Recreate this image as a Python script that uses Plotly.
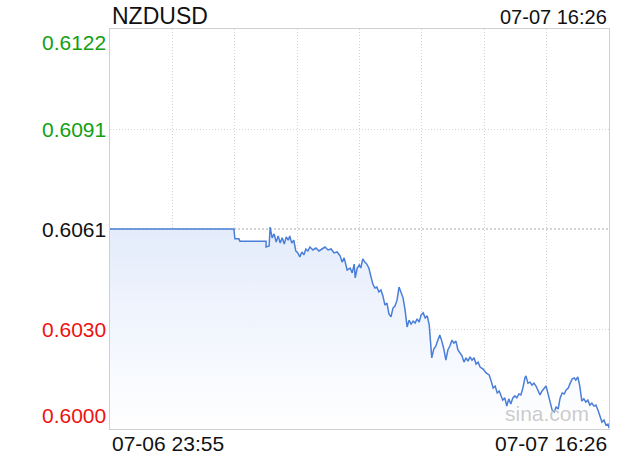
import plotly.graph_objects as go

# ---- data (minutes after 07-06 23:55, price) ----
minutes = [0, 246, 248, 256, 258, 310, 310, 316, 318, 322, 326, 330, 334, 338, 342, 346, 350, 354, 357, 361,
           365, 369, 373, 377, 381, 385, 389, 393, 397, 403, 409, 415, 421, 427, 433, 439, 445, 451, 457, 461,
           465, 471, 477, 481, 485, 487, 491, 495, 498, 502, 506, 510, 514, 518, 522, 526, 530, 534, 538, 542,
           546, 550, 554, 558, 562, 566, 570, 574, 578, 582, 586, 590, 594, 598, 602, 606, 610, 614, 618, 622,
           626, 630, 634, 636, 639, 643, 647, 651, 655, 659, 663, 667, 671, 675, 679, 683, 687, 691, 695, 699,
           703, 707, 711, 715, 719, 723, 727, 731, 735, 741, 747, 753, 757, 761, 765, 769, 773, 777, 780, 784,
           788, 792, 796, 800, 804, 808, 812, 816, 820, 824, 826, 830, 834, 838, 842, 846, 850, 854, 858, 862,
           866, 870, 874, 878, 882, 886, 890, 894, 898, 902, 906, 910, 914, 918, 922, 925, 929, 933, 937, 941,
           945, 949, 953, 957, 961, 965, 969, 973, 977, 981, 985, 989, 991]
prices = [0.60610, 0.60610, 0.60580, 0.60580, 0.60573, 0.60573, 0.60555, 0.60558, 0.60616, 0.60583,
          0.60595, 0.60570, 0.60589, 0.60567, 0.60583, 0.60564, 0.60586, 0.60576, 0.60589, 0.60567,
          0.60576, 0.60543, 0.60537, 0.60525, 0.60540, 0.60531, 0.60549, 0.60543, 0.60555, 0.60546,
          0.60552, 0.60543, 0.60549, 0.60555, 0.60546, 0.60549, 0.60537, 0.60540, 0.60528, 0.60509,
          0.60522, 0.60485, 0.60491, 0.60476, 0.60503, 0.60461, 0.60491, 0.60500, 0.60491, 0.60519,
          0.60509, 0.60503, 0.60491, 0.60467, 0.60442, 0.60430, 0.60433, 0.60418, 0.60424, 0.60406,
          0.60378, 0.60384, 0.60351, 0.60342, 0.60369, 0.60375, 0.60393, 0.60433, 0.60415, 0.60400,
          0.60363, 0.60311, 0.60332, 0.60320, 0.60329, 0.60323, 0.60336, 0.60326, 0.60348, 0.60354,
          0.60339, 0.60345, 0.60317, 0.60265, 0.60217, 0.60244, 0.60253, 0.60271, 0.60287, 0.60268,
          0.60244, 0.60210, 0.60241, 0.60253, 0.60271, 0.60262, 0.60268, 0.60241, 0.60232, 0.60223,
          0.60204, 0.60217, 0.60207, 0.60220, 0.60210, 0.60217, 0.60198, 0.60204, 0.60189, 0.60183,
          0.60171, 0.60165, 0.60146, 0.60125, 0.60131, 0.60110, 0.60116, 0.60101, 0.60088, 0.60095,
          0.60070, 0.60092, 0.60076, 0.60095, 0.60101, 0.60095, 0.60107, 0.60104, 0.60125, 0.60156,
          0.60162, 0.60140, 0.60143, 0.60134, 0.60140, 0.60131, 0.60119, 0.60104, 0.60116, 0.60122,
          0.60131, 0.60107, 0.60082, 0.60058, 0.60052, 0.60067, 0.60061, 0.60095, 0.60110, 0.60107,
          0.60119, 0.60125, 0.60140, 0.60153, 0.60156, 0.60149, 0.60159, 0.60131, 0.60085, 0.60092,
          0.60082, 0.60088, 0.60073, 0.60079, 0.60070, 0.60073, 0.60058, 0.60037, 0.60021, 0.60027,
          0.60012, 0.60015, 0.60003]

symbol = "NZDUSD"
last_time = "07-07 16:26"
start_label = "07-06 23:55"
end_label = "07-07 16:26"
prev_close = 0.6061
y_min, y_max = 0.6000, 0.6122
y_tick_labels = ["0.6000", "0.6030", "0.6061", "0.6091", "0.6122"]
y_tick_colors = ["#ee1111", "#ee1111", "#111111", "#12a012", "#12a012"]
x_span = 991
n_xdiv = 8

FONT = "Liberation Sans, Arial, Helvetica, sans-serif"

y_ticks = [y_min + i * (y_max - y_min) / 4 for i in range(5)]
x_ticks = [i * x_span / n_xdiv for i in range(n_xdiv + 1)]

fig = go.Figure()
fig.add_trace(go.Scatter(
    x=minutes, y=prices, mode="lines",
    line=dict(color="#4a7ed8", width=1.5),
    fill="tozeroy",
    fillgradient=dict(type="vertical", start=y_min, stop=prev_close,
                      colorscale=[[0, "rgba(255,255,255,1)"], [1, "#e4ecfb"]]),
    hoverinfo="skip", showlegend=False,
))

# previous close reference line
fig.add_shape(type="line", xref="paper", x0=0, x1=1, yref="y", y0=prev_close, y1=prev_close,
              line=dict(color="#a8a8a8", width=1, dash="2px,2px"), layer="below")

annotations = []
for i, (v, t, c) in enumerate(zip(y_ticks, y_tick_labels, y_tick_colors)):
    anchor = "bottom" if i == 0 else ("top" if i == len(y_ticks) - 1 else "middle")
    annotations.append(dict(x=0, xref="paper", y=v, yref="y", text=t, showarrow=False,
                            xanchor="right", yanchor=anchor, xshift=-2,
                            font=dict(family=FONT, size=21, color=c)))
annotations.append(dict(x=0, xref="paper", y=1, yref="paper", text=symbol, showarrow=False,
                        xanchor="left", yanchor="bottom", yshift=-2,
                        font=dict(family=FONT, size=23, color="#111111")))
annotations.append(dict(x=1, xref="paper", y=1, yref="paper", text=last_time, showarrow=False,
                        xanchor="right", yanchor="bottom", yshift=-1,
                        font=dict(family=FONT, size=20, color="#111111")))
annotations.append(dict(x=0, xref="paper", y=0, yref="paper", text=start_label, showarrow=False,
                        xanchor="left", yanchor="top", yshift=-1,
                        font=dict(family=FONT, size=21, color="#111111")))
annotations.append(dict(x=1, xref="paper", y=0, yref="paper", text=end_label, showarrow=False,
                        xanchor="right", yanchor="top", yshift=-1,
                        font=dict(family=FONT, size=21, color="#111111")))
annotations.append(dict(x=0.875, xref="paper", y=0.04, yref="paper", text="sina.com", showarrow=False,
                        xanchor="center", yanchor="middle",
                        font=dict(family=FONT, size=21, color="rgba(190,190,190,0.8)")))

fig.update_layout(
    width=620, height=460,
    margin=dict(l=110, r=11, t=29, b=31),
    paper_bgcolor="white", plot_bgcolor="white",
    annotations=annotations,
    xaxis=dict(range=[0, x_span], tickvals=x_ticks, showticklabels=False, ticks="",
               showgrid=True, gridcolor="#d4d4d4", griddash="1px,2px", gridwidth=1,
               showline=True, linecolor="#d0d0d0", mirror=True, zeroline=False, fixedrange=True),
    yaxis=dict(range=[y_min, y_max], tickvals=[y_ticks[1], y_ticks[3]], showticklabels=False, ticks="",
               showgrid=True, gridcolor="#d4d4d4", griddash="1px,2px", gridwidth=1,
               showline=True, linecolor="#d0d0d0", mirror=True, zeroline=False, fixedrange=True),
)

fig.write_html("out.html", config={"displayModeBar": False},
               post_script="document.body.style.margin='0';document.body.style.overflow='hidden';")
